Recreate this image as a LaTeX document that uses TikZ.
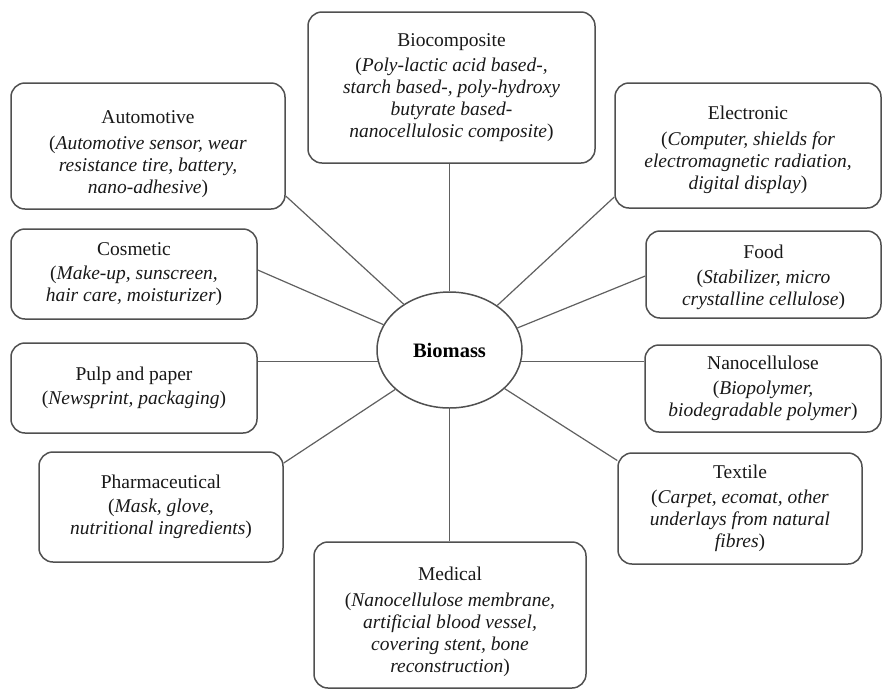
\documentclass[tikz,border=0pt]{standalone}
\usepackage{fontspec}
\setmainfont{Liberation Serif}
\usetikzlibrary{shapes.geometric}
\definecolor{boxgray}{HTML}{505050}
\definecolor{linegray}{HTML}{606060}
\newcommand{\lowerby}[1]{\rule{0pt}{#1}}
\begin{document}
\begin{tikzpicture}[x=1pt,y=-1pt,
  box/.style={draw=boxgray, line width=1.5pt, rounded corners=14pt, align=center,
    inner sep=0pt, fill=white, font=\fontsize{19.5}{22}\selectfont, text=black!90},
  link/.style={draw=linegray, line width=1.2pt}]
\useasboundingbox (0,0) rectangle (883,689);
\fill[white] (0,0) rectangle (883,689);

\node[box, minimum width=287pt, minimum height=151pt] (bioc) at (451.5,87.5)
  {Biocomposite\\[3pt](\textit{Poly-lactic acid based-,}\\\textit{starch based-, poly-hydroxy}\\\textit{butyrate based-}\\\textit{nanocellulosic composite})};
\node[box, minimum width=274pt, minimum height=126pt] (auto) at (148,146)
  {\lowerby{29pt}Automotive\\[4pt](\textit{Automotive sensor, wear}\\\textit{resistance tire, battery,}\\\textit{nano-adhesive})};
\node[box, minimum width=246pt, minimum height=90pt] (cosm) at (134,274)
  {Cosmetic\\[2pt](\textit{Make-up, sunscreen,}\\\textit{hair care, moisturizer})};
\node[box, minimum width=246pt, minimum height=90pt] (pulp) at (134,388)
  {Pulp and paper\\[2pt](\textit{Newsprint, packaging})};
\node[box, minimum width=244pt, minimum height=110pt] (pharm) at (161,507)
  {Pharmaceutical\\[2pt](\textit{Mask, glove,}\\\textit{nutritional ingredients})};
\node[box, minimum width=272pt, minimum height=146pt] (med) at (450,615)
  {\lowerby{27pt}Medical\\[4pt](\textit{Nanocellulose membrane,}\\\textit{artificial blood vessel,}\\\textit{covering stent, bone}\\\textit{reconstruction})};
\node[box, minimum width=244pt, minimum height=111pt] (txl) at (740,508.5)
  {Textile\\[3pt](\textit{Carpet, ecomat, other}\\\textit{underlays from natural}\\\textit{fibres})};
\node[box, minimum width=236pt, minimum height=87pt] (nano) at (763,388.5)
  {Nanocellulose\\[3pt](\textit{Biopolymer,}\\\textit{biodegradable polymer})};
\node[box, minimum width=235pt, minimum height=87pt] (food) at (763.5,274.5)
  {\lowerby{19pt}Food\\[3pt](\textit{Stabilizer, micro}\\\textit{crystalline cellulose})};
\node[box, minimum width=266pt, minimum height=125pt] (elec) at (748,145.5)
  {\lowerby{23pt}Electronic\\[4pt](\textit{Computer, shields for}\\\textit{electromagnetic radiation,}\\\textit{digital display})};

\node[ellipse, draw=boxgray, line width=1.5pt, fill=white, inner sep=0pt,
  minimum width=145pt, minimum height=116pt, font=\fontsize{20.5}{24}\selectfont\bfseries]
  (bio) at (449.5,350) {Biomass};

\draw[link] (bio.90) -- (bio.90 |- bioc.south);
\draw[link] (bio.135) -- ([yshift=-50pt]auto.east);
\draw[link] (bio.159.6) -- ([yshift=4pt]cosm.east);
\draw[link] (bio.189) -- (bio.189 -| pulp.east);
\draw[link] (bio.216) -- ([yshift=44pt]pharm.east);
\draw[link] (bio.270) -- (bio.270 |- med.north);
\draw[link] (bio.325) -- ([yshift=48pt]txl.west);
\draw[link] (bio.351) -- (bio.351 -| nano.west);
\draw[link] (bio.18) -- ([yshift=-1.5pt]food.west);
\draw[link] (bio.43) -- ([yshift=-51.5pt]elec.west);
\end{tikzpicture}
\end{document}
